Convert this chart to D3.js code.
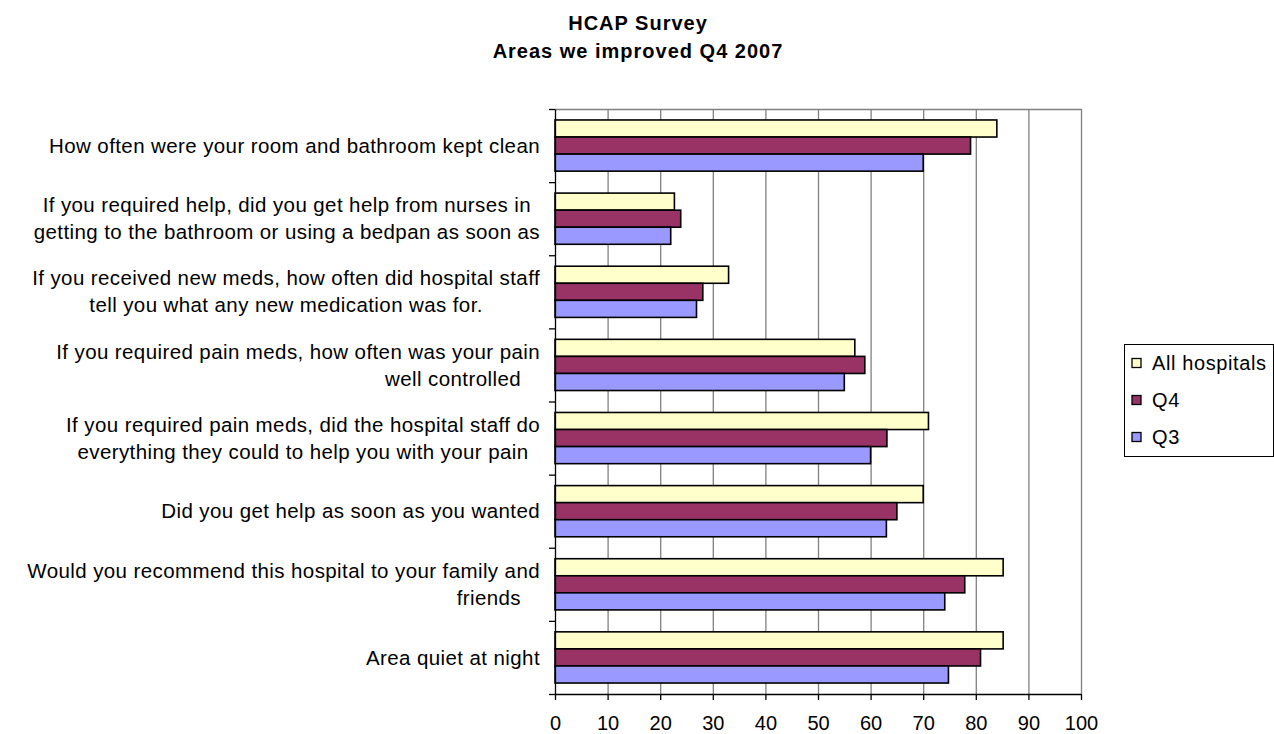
<!DOCTYPE html>
<html>
<head>
<meta charset="utf-8">
<script src="https://cdn.jsdelivr.net/npm/d3@7"></script>
<style>
  body { margin: 0; background: #fff; }
  svg text { font-family: "Liberation Sans", Arial, sans-serif; fill: #000; }
</style>
</head>
<body>
<svg id="chart" width="1274" height="734"></svg>
<script>
// 标题
var titleLines = ["HCAP Survey", "Areas we improved Q4 2007"];
// 类别（自上而下），每个类别可以多行
var categories = [
    ["How often were your room and bathroom kept clean"],
    ["If you required help, did you get help from nurses in", "getting to the bathroom or using a bedpan as soon as"],
    ["If you received new meds, how often did hospital staff", "tell you what any new medication was for."],
    ["If you required pain meds, how often was your pain", "well controlled"],
    ["If you required pain meds, did the hospital staff do", "everything they could to help you with your pain"],
    ["Did you get help as soon as you wanted"],
    ["Would you recommend this hospital to your family and", "friends"],
    ["Area quiet at night"]
];
var seriesNames = ["All hospitals", "Q4", "Q3"];
var allHospitals = [84, 22.7, 33, 57, 71, 70, 85.2, 85.2];
var q4 = [79, 23.9, 28.1, 58.9, 63.1, 65, 77.9, 80.9];
var q3 = [70, 22, 26.9, 55, 60, 63, 74.1, 74.8];
var xTicks = [0, 10, 20, 30, 40, 50, 60, 70, 80, 90, 100];

// 绘制选项
var options = {
    left: 555, right: 1081, top: 109, bottom: 694,
    colors: ["#ffffcc", "#993366", "#9999ff"],
    gridColor: "#808080",
    labelRight: 540,
    labelSize: 20.5,
    lineGap: 27
};

var svg = d3.select("#chart");
var seriesValues = [allHospitals, q4, q3];
var keys = categories.map(function (d, i) { return i; });

// 比例尺
var x = d3.scaleLinear().domain([0, 100]).range([options.left, options.right]);
var y0 = d3.scaleBand().domain(keys).range([options.top, options.bottom])
    .paddingInner(0.3).paddingOuter(0.15);
var y1 = d3.scaleBand().domain(seriesNames).range([0, y0.bandwidth()]);
var yEdge = d3.scaleLinear().domain([0, categories.length]).range([options.top, options.bottom]);

/*-------- 标题 --------*/
svg.append("g").selectAll("text")
    .data(titleLines)
    .enter().append("text")
    .attr("x", 638)
    .attr("y", function (d, i) { return 30 + i * 28; })
    .attr("text-anchor", "middle")
    .style("font-size", "20px")
    .style("font-weight", "bold")
    .style("letter-spacing", "1px")
    .text(function (d) { return d; });

/*-------- 网格线与边框 --------*/
svg.append("g").selectAll("line")
    .data(xTicks.slice(1))
    .enter().append("line")
    .attr("x1", function (d) { return x(d) + 0.5; })
    .attr("x2", function (d) { return x(d) + 0.5; })
    .attr("y1", options.top)
    .attr("y2", options.bottom)
    .attr("stroke", options.gridColor)
    .attr("stroke-width", 1.3);
svg.append("line") // 上边框
    .attr("x1", options.left).attr("x2", options.right + 1)
    .attr("y1", options.top + 0.5).attr("y2", options.top + 0.5)
    .attr("stroke", options.gridColor).attr("stroke-width", 1.3);

/*-------- 柱子 --------*/
var groups = svg.append("g").selectAll("g")
    .data(keys)
    .enter().append("g")
    .attr("transform", function (d) { return "translate(0," + y0(d) + ")"; });
groups.selectAll("rect")
    .data(function (k) {
        return seriesNames.map(function (s, j) { return { name: s, value: seriesValues[j][k], j: j }; });
    })
    .enter().append("rect")
    .attr("x", x(0))
    .attr("y", function (d) { return y1(d.name); })
    .attr("width", function (d) { return x(d.value) - x(0); })
    .attr("height", y1.bandwidth())
    .attr("fill", function (d) { return options.colors[d.j]; })
    .attr("stroke", "#000")
    .attr("stroke-width", 1.6);

/*-------- 坐标轴 --------*/
var xAxis = d3.axisBottom(x).tickValues(xTicks).tickSize(6).tickSizeOuter(0).tickFormat(d3.format("d"));
var gx = svg.append("g")
    .attr("transform", "translate(0," + options.bottom + ")")
    .call(xAxis);
gx.select(".domain").attr("stroke", "#000").attr("stroke-width", 1.3);
gx.selectAll(".tick line").attr("stroke", "#000").attr("stroke-width", 1.3);
gx.selectAll("text")
    .attr("y", 0).attr("dy", 0)
    .attr("transform", "translate(0,36)")
    .style("font-size", "20px")
    .style("font-family", "'Liberation Sans', Arial, sans-serif")
    .attr("fill", "#000");

var yAxis = d3.axisLeft(yEdge).tickValues(d3.range(categories.length + 1)).tickSize(6).tickSizeOuter(0).tickFormat("");
var gy = svg.append("g")
    .attr("transform", "translate(" + options.left + ",0)")
    .call(yAxis);
gy.select(".domain").attr("stroke", "#000").attr("stroke-width", 1.3);
gy.selectAll(".tick line").attr("stroke", "#000").attr("stroke-width", 1.3);

/*-------- 类别标签 --------*/
var labels = svg.append("g").selectAll("g")
    .data(keys)
    .enter().append("g");
labels.each(function (k) {
    var g = d3.select(this);
    var lines = categories[k];
    var cy = y0(k) + y0.bandwidth() / 2;
    var texts = g.selectAll("text")
        .data(lines)
        .enter().append("text")
        .attr("y", function (d, i) { return cy + (i - (lines.length - 1) / 2) * options.lineGap; })
        .attr("dy", "0.35em")
        .style("font-size", options.labelSize + "px")
        .style("letter-spacing", "0.4px")
        .text(function (d) { return d; });
    // 多行居中对齐，整体右对齐到坐标轴
    var widths = [];
    texts.each(function () { widths.push(this.getComputedTextLength()); });
    var maxW = d3.max(widths);
    var cx = options.labelRight - maxW / 2;
    texts.attr("text-anchor", "middle").attr("x", function (d, i) {
        // 较短的第二行靠右
        if (i > 0 && widths[i] < maxW / 2) return options.labelRight - 19 - widths[i] / 2;
        return cx;
    });
});

/*-------- 图例 --------*/
var legend = svg.append("g").attr("transform", "translate(1124,344)");
legend.append("rect")
    .attr("x", 0.5).attr("y", 0.5)
    .attr("width", 149).attr("height", 112)
    .attr("fill", "#fff")
    .attr("stroke", "#000").attr("stroke-width", 1);
var items = legend.selectAll("g.item")
    .data(seriesNames)
    .enter().append("g")
    .attr("class", "item")
    .attr("transform", function (d, i) { return "translate(0," + (19 + i * 37) + ")"; });
items.append("rect")
    .attr("x", 8).attr("y", -4.5)
    .attr("width", 9).attr("height", 9)
    .attr("fill", function (d, i) { return options.colors[i]; })
    .attr("stroke", "#000").attr("stroke-width", 1.3);
items.append("text")
    .attr("x", 28)
    .attr("dy", "0.35em")
    .style("font-size", "20px")
    .style("letter-spacing", "0.6px")
    .text(function (d) { return d; });
</script>
</body>
</html>
